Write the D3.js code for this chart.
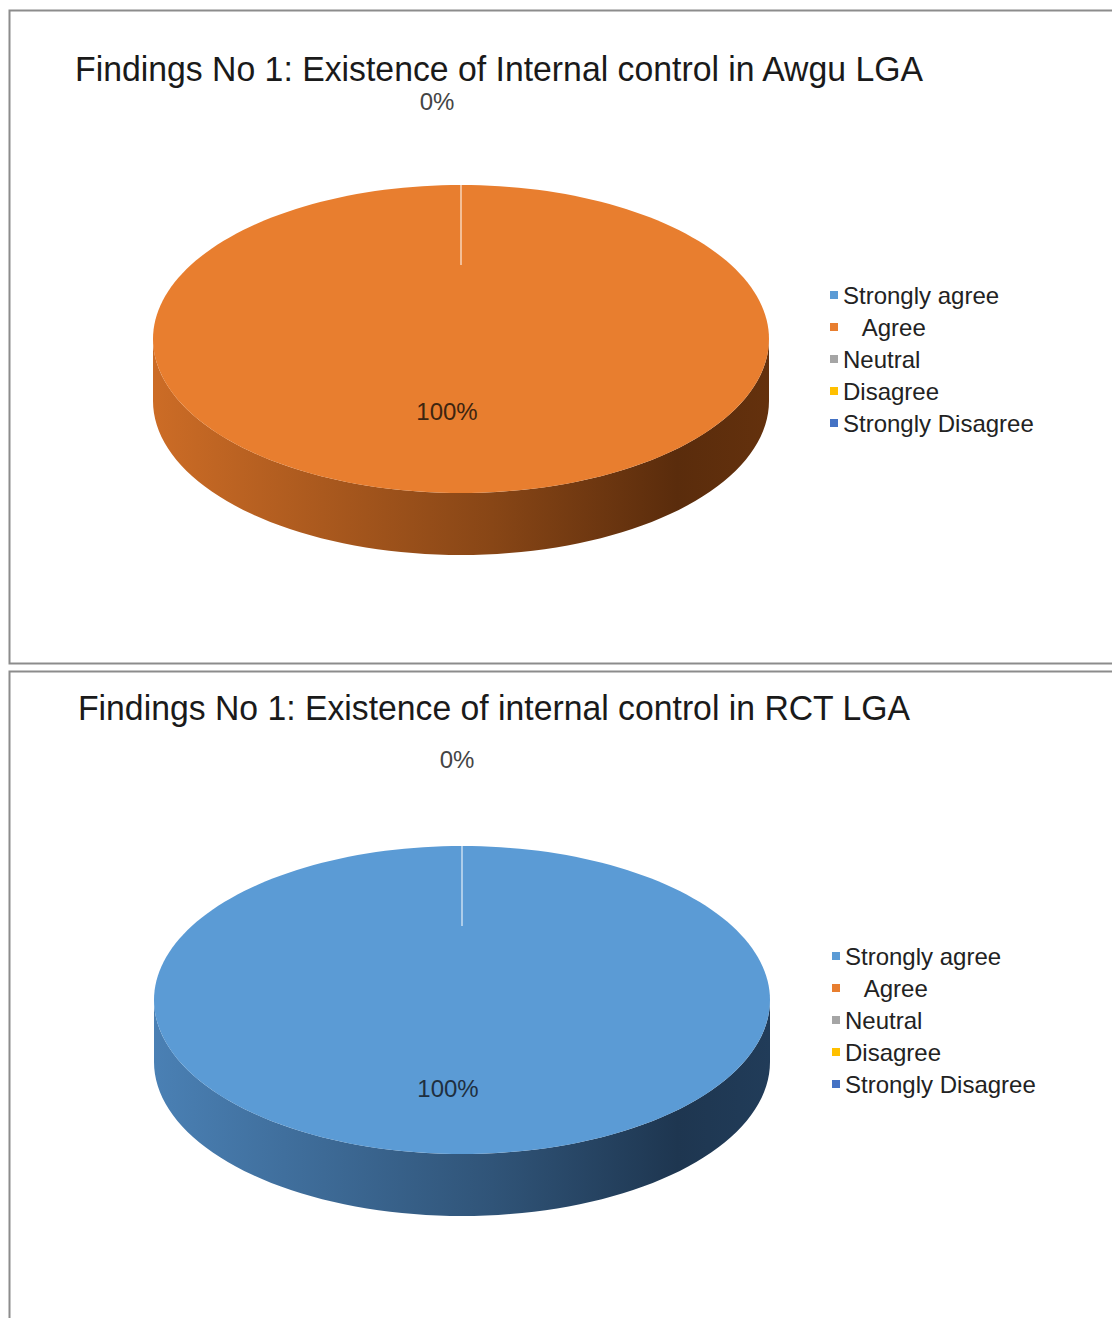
<!DOCTYPE html>
<meta charset="utf-8">
<style>
    body { margin: 0; background: #fff; }
    text { font-family: "Liberation Sans", Arial, sans-serif; fill: #222; }
</style>
<svg width="1112" height="1318"></svg>
<script src="https://cdn.jsdelivr.net/npm/d3@7"></script>
<script>

    // categories and colours of the legend
    var categories = ["Strongly agree", "   Agree", "Neutral", "Disagree", "Strongly Disagree"];
    var colors = ["#5b9bd5", "#e87e2f", "#a5a5a5", "#ffc000", "#4472c4"];

    // survey results (percent)
    var awguValues = [0, 100, 0, 0, 0];
    var rctValues = [100, 0, 0, 0, 0];

    var titles = [
        "Findings No 1: Existence of Internal control in Awgu LGA",
        "Findings No 1: Existence of internal control in RCT LGA"
    ];

    var svg = d3.select("svg");

    // panel settings (positions only, not data)
    var panels = [
        {values: awguValues, title: titles[0], top: 10, bottom: 663, titleX: 75, titleY: 81, titleW: 848,
            cx: 461, cy: 339, labelDy: 81, zeroX: 437, zeroY: 110, legendX: 830, legendY: 296,
            sideDark: "#5a2c0c", sideLight: "#cc6c26", labelFill: "#3d2510"},
        {values: rctValues, title: titles[1], top: 671, bottom: 1340, titleX: 78, titleY: 720, titleW: 832,
            cx: 462, cy: 1000, labelDy: 97, zeroX: 457, zeroY: 768, legendX: 832, legendY: 957,
            sideDark: "#1e3650", sideLight: "#4a80b4", labelFill: "#1f2f3f"}
    ];

    var rx = 308, ry = 154, depth = 62;

    var pie = d3.pie().sort(null).value(function (d) { return d; });

    function pt(cx, cy, a, dy) {
        return [cx + rx * Math.sin(a), cy - ry * Math.cos(a) + (dy || 0)];
    }

    panels.forEach(function (p, pi) {
        var g = svg.append("g");

        // border of the panel
        g.append("rect")
            .attr("x", 9.5).attr("y", p.top + 0.5)
            .attr("width", 1130).attr("height", p.bottom - p.top)
            .attr("fill", "none").attr("stroke", "#8c8c8c").attr("stroke-width", 2);

        g.append("text")
            .attr("x", p.titleX).attr("y", p.titleY)
            .attr("textLength", p.titleW).attr("lengthAdjust", "spacingAndGlyphs")
            .style("font-size", "35px")
            .style("fill", "#1a1a1a")
            .text(p.title);

        var arcs = pie(p.values);

        // side gradient
        var grad = svg.append("defs").append("linearGradient")
            .attr("id", "side" + pi)
            .attr("gradientUnits", "userSpaceOnUse")
            .attr("x1", p.cx - rx).attr("x2", p.cx + rx).attr("y1", 0).attr("y2", 0);
        grad.append("stop").attr("offset", 0).attr("stop-color", p.sideLight);
        grad.append("stop").attr("offset", 0.55).attr("stop-color", d3.interpolateRgb(p.sideLight, p.sideDark)(0.6));
        grad.append("stop").attr("offset", 0.85).attr("stop-color", p.sideDark);
        grad.append("stop").attr("offset", 1).attr("stop-color", d3.color(p.sideDark).brighter(0.3));

        // side walls for the front half (angles PI/2 .. 3PI/2)
        arcs.forEach(function (d) {
            if (d.value <= 0) return;
            var a0 = Math.max(d.startAngle, Math.PI / 2), a1 = Math.min(d.endAngle, 3 * Math.PI / 2);
            if (a1 <= a0) return;
            var n = 80, path = d3.path();
            var s = pt(p.cx, p.cy, a0);
            path.moveTo(s[0], s[1]);
            for (var i = 1; i <= n; i++) {
                var q = pt(p.cx, p.cy, a0 + (a1 - a0) * i / n);
                path.lineTo(q[0], q[1]);
            }
            for (var j = n; j >= 0; j--) {
                var r = pt(p.cx, p.cy, a0 + (a1 - a0) * j / n, depth);
                path.lineTo(r[0], r[1]);
            }
            path.closePath();
            g.append("path").attr("d", path.toString()).attr("fill", "url(#side" + pi + ")");
        });

        // top faces
        arcs.forEach(function (d, i) {
            if (d.value <= 0) return;
            var n = 200, path = d3.path();
            var full = d.endAngle - d.startAngle >= 2 * Math.PI - 1e-6;
            if (!full) path.moveTo(p.cx, p.cy);
            for (var k = 0; k <= n; k++) {
                var q = pt(p.cx, p.cy, d.startAngle + (d.endAngle - d.startAngle) * k / n);
                if (k === 0 && full) path.moveTo(q[0], q[1]); else path.lineTo(q[0], q[1]);
            }
            path.closePath();
            g.append("path").attr("d", path.toString()).attr("fill", colors[i]);
        });

        // faint slice edge at 12 o'clock
        var e0 = pt(p.cx, p.cy, 0);
        g.append("line")
            .attr("x1", e0[0]).attr("y1", e0[1])
            .attr("x2", e0[0]).attr("y2", e0[1] + ry * 0.52)
            .attr("stroke", "#ffffff").attr("stroke-opacity", 0.5).attr("stroke-width", 2);

        // data labels
        var zeroDone = false;
        arcs.forEach(function (d) {
            if (d.value > 0) {
                var mid = (d.startAngle + d.endAngle) / 2;
                var c = d.endAngle - d.startAngle >= 2 * Math.PI - 1e-6
                    ? [p.cx - 14, p.cy + p.labelDy] : pt(p.cx, p.cy, mid);
                g.append("text")
                    .attr("x", c[0]).attr("y", c[1])
                    .attr("text-anchor", "middle")
                    .style("font-size", "24px")
                    .style("fill", p.labelFill)
                    .text(d.value + "%");
            } else if (!zeroDone) {
                zeroDone = true;
                g.append("text")
                    .attr("x", p.zeroX).attr("y", p.zeroY)
                    .attr("text-anchor", "middle")
                    .style("font-size", "24px")
                    .style("fill", "#444")
                    .text(d.value + "%");
            }
        });

        // legend
        var leg = g.selectAll(".leg").data(categories).enter().append("g")
            .attr("transform", function (d, i) {
                return "translate(" + p.legendX + "," + (p.legendY + i * 32) + ")";
            });
        leg.append("rect")
            .attr("x", 0).attr("y", -5).attr("width", 8).attr("height", 8)
            .attr("fill", function (d, i) { return colors[i]; });
        leg.append("text")
            .attr("x", 13).attr("y", 8)
            .style("font-size", "24px")
            .style("white-space", "pre")
            .attr("xml:space", "preserve")
            .text(function (d) { return d; });
    });

</script>
